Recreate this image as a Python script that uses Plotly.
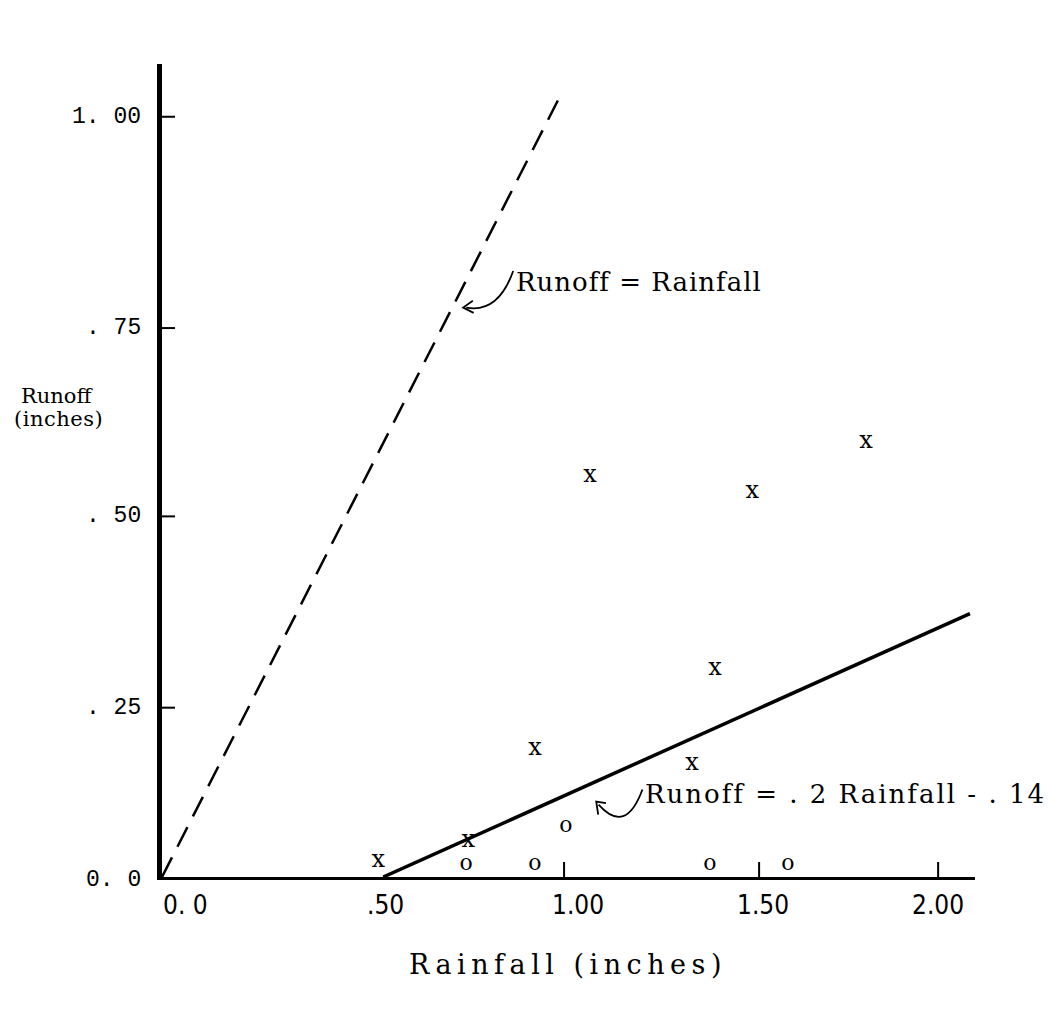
import plotly.graph_objects as go

# ---- data ----
x_rain = [0.557, 0.789, 0.961, 1.103, 1.366, 1.425, 1.521, 1.814]
x_runoff = [0.021, 0.047, 0.168, 0.527, 0.148, 0.273, 0.506, 0.572]

o_rain = [0.784, 0.961, 1.041, 1.412, 1.613]
o_runoff = [0.016, 0.016, 0.066, 0.016, 0.016]

equal_line_x = [0.0, 1.02]
equal_line_y = [0.0, 1.02]

fit_line_x = [0.57, 2.082]
fit_line_y = [0.0, 0.346]

x_tickvals = [0.0, 0.5, 1.0, 1.5, 2.0]
x_ticktext = ["0. 0", ".50", "1.00", "1.50", "2.00"]
x_tickmarks = [1.0, 1.5, 2.0]
y_tickvals = [0.0, 0.25, 0.5, 0.75, 1.0]
y_ticktext = ["0. 0", ". 25", ". 50", ". 75", "1. 00"]

X_MAX = 2.095
Y_MAX = 1.068

# hand-drawn scale irregularities of the original (pixel offsets, styling only)
X_LABEL_SHIFT = [23, 29, 28, 19, 0]
X_TICK_SHIFT = [14, 15, 0]
Y_LABEL_SHIFT = [3, 21, 20, 22, 1]

SERIF = "DejaVu Serif, Liberation Serif, serif"
NARROW = "Liberation Sans Narrow, DejaVu Sans Condensed, sans-serif"
MONO = "Liberation Mono, DejaVu Sans Mono, monospace"

fig = go.Figure()

fig.add_trace(go.Scatter(x=equal_line_x, y=equal_line_y, mode="lines",
                         line=dict(color="black", width=2.5, dash="22px,12px"),
                         hoverinfo="skip", showlegend=False))
fig.add_trace(go.Scatter(x=fit_line_x, y=fit_line_y, mode="lines",
                         line=dict(color="black", width=3.5),
                         hoverinfo="skip", showlegend=False, cliponaxis=False))
fig.add_trace(go.Scatter(x=x_rain, y=x_runoff, mode="text", text=["x"] * len(x_rain),
                         textfont=dict(family=SERIF, size=24, color="black"),
                         textposition="middle center", showlegend=False, cliponaxis=False))
fig.add_trace(go.Scatter(x=o_rain, y=o_runoff, mode="text", text=["o"] * len(o_rain),
                         textfont=dict(family=SERIF, size=22, color="black"),
                         textposition="middle center", showlegend=False, cliponaxis=False))

shapes = []
# x tick marks (pointing up from the axis)
for v, s in zip(x_tickmarks, X_TICK_SHIFT):
    shapes.append(dict(type="line", xref="x", yref="y",
                       xsizemode="pixel", xanchor=v, x0=s, x1=s,
                       ysizemode="pixel", yanchor=0, y0=-3, y1=15,
                       line=dict(color="black", width=2)))
# y tick marks (pointing right from the axis)
for v, s in zip(y_tickvals[1:], Y_LABEL_SHIFT[1:]):
    shapes.append(dict(type="line", xref="x", yref="y",
                       xsizemode="pixel", xanchor=0, x0=0, x1=13,
                       ysizemode="pixel", yanchor=v, y0=-s, y1=-s,
                       line=dict(color="black", width=2)))

# curved arrows (decorations)
shapes.append(dict(type="path", xref="x", yref="y",
                   path="M 0.905 0.796 Q 0.866 0.740 0.784 0.748",
                   line=dict(color="black", width=1.8)))
shapes.append(dict(type="path", xref="x", yref="y",
                   path="M 0.801 0.757 L 0.776 0.748 L 0.803 0.741",
                   line=dict(color="black", width=1.8)))
shapes.append(dict(type="path", xref="x", yref="y",
                   path="M 1.238 0.115 Q 1.195 0.055 1.125 0.095",
                   line=dict(color="black", width=1.8)))
shapes.append(dict(type="path", xref="x", yref="y",
                   path="M 1.124 0.082 L 1.119 0.099 L 1.144 0.097",
                   line=dict(color="black", width=1.8)))

annotations = [
    dict(text='<span style="letter-spacing:1px">Runoff = Rainfall</span>',
         xref="x", yref="y", x=0.908, y=0.782,
         xanchor="left", yanchor="middle", showarrow=False,
         font=dict(family=SERIF, size=26, color="black")),
    dict(text='<span style="letter-spacing:2px">Runoff = . 2 Rainfall - . 14</span>',
         xref="x", yref="y", x=1.24, y=0.109,
         xanchor="left", yanchor="middle", showarrow=False,
         font=dict(family=SERIF, size=26, color="black")),
    dict(text="Runoff", xref="paper", yref="paper", x=0, xshift=-105,
         y=0.5916, xanchor="center", yanchor="middle", showarrow=False,
         font=dict(family=SERIF, size=21, color="black")),
    dict(text='<span style="letter-spacing:0.5px">(inches)</span>',
         xref="paper", yref="paper", x=0, xshift=-104,
         y=0.5633, xanchor="center", yanchor="middle", showarrow=False,
         font=dict(family=SERIF, size=21, color="black")),
    dict(text='<span style="letter-spacing:5.5px">Rainfall (inches)</span>',
         xref="paper", yref="paper", x=0.5, y=0, xshift=-1,
         yshift=-87, xanchor="center", yanchor="middle", showarrow=False,
         font=dict(family=SERIF, size=27, color="black")),
]

# x tick labels
for v, t, s in zip(x_tickvals, x_ticktext, X_LABEL_SHIFT):
    annotations.append(dict(text=t, xref="x", yref="y", x=v, y=0, xshift=s, yshift=-28,
                            xanchor="center", yanchor="middle", showarrow=False,
                            font=dict(family=NARROW, size=26, color="black")))
# y tick labels
for v, t, s in zip(y_tickvals, y_ticktext, Y_LABEL_SHIFT):
    annotations.append(dict(text=t, xref="x", yref="y", x=0, y=v, xshift=-19, yshift=-s,
                            xanchor="right", yanchor="middle", showarrow=False,
                            font=dict(family=MONO, size=23, color="black")))

fig.update_layout(
    width=1062, height=1011,
    margin=dict(l=154, r=95, t=56, b=142),
    paper_bgcolor="white", plot_bgcolor="white",
    shapes=shapes, annotations=annotations,
    xaxis=dict(range=[0, X_MAX], showgrid=False, zeroline=False,
               showline=True, linecolor="black", linewidth=3,
               showticklabels=False, ticks=""),
    yaxis=dict(range=[0, Y_MAX], showgrid=False, zeroline=False,
               showline=True, linecolor="black", linewidth=5,
               showticklabels=False, ticks=""),
)

fig.write_html("out.html")
